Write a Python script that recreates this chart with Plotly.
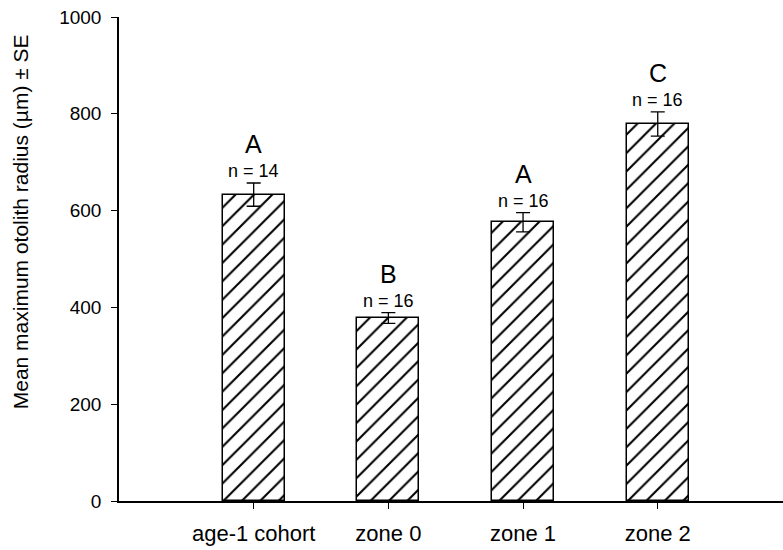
import plotly.graph_objects as go

categories = ["age-1 cohort", "zone 0", "zone 1", "zone 2"]
means = [633, 378, 576, 779]
se = [24, 11, 20, 25]
letters = ["A", "B", "A", "C"]
n_labels = ["n = 14", "n = 16", "n = 16", "n = 16"]
y_ticks = [0, 200, 400, 600, 800, 1000]
y_title = "Mean maximum otolith radius (µm) ± SE"

xpos = list(range(len(categories)))
FONT = "Liberation Sans, Arial"

fig = go.Figure()
fig.add_trace(go.Bar(
    x=xpos, y=means, width=0.46,
    marker=dict(color="white", line=dict(color="black", width=1.5),
                pattern=dict(shape="/", fgcolor="black", bgcolor="white",
                             fgopacity=1, size=13, solidity=0.16)),
    error_y=dict(type="data", array=se, visible=True, color="black",
                 thickness=1.3, width=7),
    showlegend=False,
))

for i in xpos:
    top = means[i] + se[i]
    fig.add_annotation(x=i, y=top, text=n_labels[i], showarrow=False,
                       yanchor="middle", yshift=12,
                       font=dict(family=FONT, size=18, color="black"))
    fig.add_annotation(x=i, y=top, text=letters[i], showarrow=False,
                       yanchor="middle", yshift=39,
                       font=dict(family=FONT, size=25, color="black"))

# y-axis title placed as rotated annotation (offset upward as in reference)
fig.add_annotation(xref="paper", yref="paper", x=-0.149, y=0.576,
                   text=y_title, textangle=-90, showarrow=False,
                   xanchor="center", yanchor="middle",
                   font=dict(family=FONT, size=21, color="black"))

fig.update_layout(
    width=783, height=550,
    margin=dict(l=119, r=0, t=17, b=49),
    plot_bgcolor="white", paper_bgcolor="white",
    font=dict(family=FONT, color="black", size=19),
    bargap=0,
)
fig.update_xaxes(
    range=[-1, 3.93], tickvals=xpos, ticktext=categories,
    showline=True, linecolor="black", linewidth=1.5,
    ticks="outside", ticklen=6, tickcolor="black", tickwidth=1,
    showgrid=False, zeroline=False, tickfont=dict(size=22),
    ticklabelstandoff=6,
)
fig.update_yaxes(
    range=[0, 1000], tickvals=y_ticks,
    showline=True, linecolor="black", linewidth=1.5,
    ticks="outside", ticklen=6, tickcolor="black", tickwidth=1,
    showgrid=False, zeroline=False, tickfont=dict(size=19),
    ticklabelstandoff=6,
)

fig.write_html("out.html")
